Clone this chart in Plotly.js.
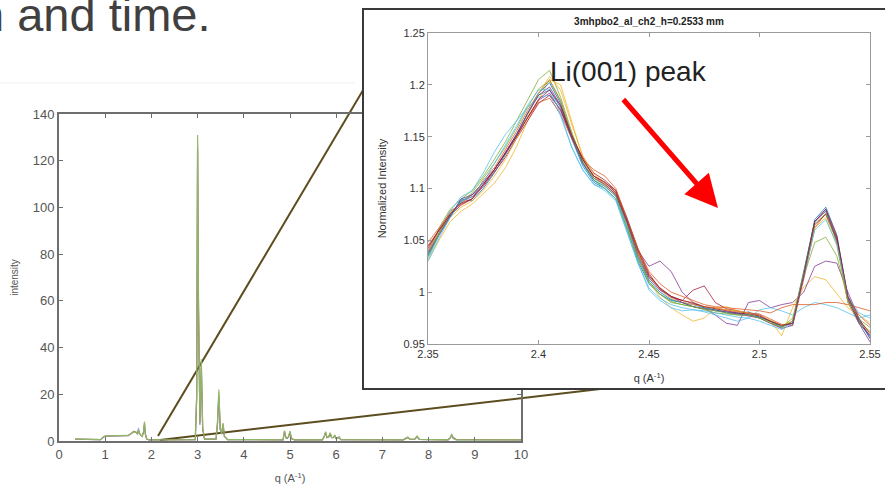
<!DOCTYPE html>
<html>
<head>
<meta charset="utf-8">
<script src="https://cdn.plot.ly/plotly-3.0.1.min.js"></script>
<style>html,body{margin:0;padding:0;background:#fff;}#chart{width:885px;height:488px;}</style>
</head>
<body>
<div id="chart"></div>
<script>
// ---------- main pattern (intensity vs q) ----------
const qMain = [0.35,0.9,0.98,1.02,1.5,1.58,1.62,1.66,1.7,1.72,1.74,1.77,1.8,1.83,1.85,1.87,1.9,1.95,2.2,2.95,2.98,3.0,3.02,3.05,3.08,3.11,3.15,3.4,3.43,3.46,3.49,3.52,3.55,3.58,3.65,4.85,4.88,4.91,4.94,4.97,5.0,5.03,5.1,5.7,5.74,5.77,5.8,5.84,5.87,5.9,5.94,5.97,6.0,6.03,6.06,6.1,7.45,7.52,7.55,7.6,7.7,7.75,7.8,8.42,8.47,8.5,8.53,8.6,10];
const mainBlue   = [0.8,0.6,1.9,2.1,2.3,3.6,4.2,3.9,3.2,5.6,3.4,2.6,2.0,3.8,7.0,2.8,0.8,0.5,0.5,0.6,18,126,55,7,32,5,0.8,0.8,7,20,5,3,7,2,0.6,0.5,4.0,1.4,1.1,1.8,3.9,1.0,0.5,0.5,1.8,3.6,1.4,1.8,3.2,1.4,1.4,2.3,1.0,1.1,1.6,0.6,0.5,1.1,1.5,0.7,0.8,1.9,0.7,0.5,1.3,2.6,1.1,0.5,0.5];
const mainOrange = [0.8,0.6,2.0,2.2,2.4,3.5,4.1,3.8,3.0,4.8,3.3,2.5,2.0,3.9,7.8,2.9,0.8,0.5,0.5,0.6,19,129,58,8,34,6,0.8,0.8,8,21,5,3,7.5,2,0.6,0.5,4.2,1.5,1.2,1.9,4.1,1.0,0.5,0.5,1.9,3.8,1.5,1.9,3.4,1.5,1.5,2.5,1.0,1.2,1.7,0.6,0.5,1.2,1.6,0.7,0.8,2.0,0.7,0.5,1.4,2.8,1.5,0.6,0.5];
const mainRed    = [0.8,0.6,1.9,2.1,2.3,3.4,4.0,3.7,3.0,4.6,3.2,2.5,2.0,3.7,7.5,2.8,0.8,0.5,0.5,0.6,18,124,54,7,31,5,0.8,0.8,7,19,5,3,7,2,0.6,0.5,3.9,1.4,1.1,1.8,3.8,1.0,0.5,0.5,1.8,3.5,1.4,1.8,3.1,1.4,1.4,2.2,1.0,1.1,1.6,0.6,0.5,1.1,1.5,0.7,0.8,1.8,0.7,0.5,1.3,2.4,1.6,0.7,0.5];
const mainGreen  = [0.8,0.6,2.0,2.2,2.4,3.5,4.0,3.8,3.0,4.5,3.2,2.5,2.0,4.0,8.3,3.0,0.8,0.5,0.5,0.6,20,131,60,8,35,6,0.8,0.8,8,22,5,3,7.7,2,0.6,0.5,4.4,1.5,1.2,2.0,4.2,1.0,0.5,0.5,2.0,4.0,1.5,2.0,3.6,1.5,1.5,2.6,1.0,1.2,1.8,0.6,0.5,1.2,1.7,0.7,0.8,2.1,0.7,0.5,1.5,3.0,1.2,0.5,0.5];
const mainTickVals = [0,1,2,3,4,5,6,7,8,9,10];
const mainYTicks = [0,20,40,60,80,100,120,140];

// ---------- inset (normalized intensity, Li(001) region) ----------
const qZoom = [2.350,2.355,2.360,2.365,2.370,2.375,2.380,2.385,2.390,2.395,2.400,2.405,2.410,2.415,2.420,2.425,2.430,2.435,2.440,2.445,2.450,2.455,2.460,2.465,2.470,2.475,2.480,2.485,2.490,2.495,2.500,2.505,2.510,2.515,2.520,2.525,2.530,2.535,2.540,2.545,2.550];
const scan01 = [1.035,1.055,1.072,1.090,1.088,1.100,1.115,1.132,1.150,1.172,1.190,1.195,1.178,1.148,1.122,1.106,1.100,1.090,1.062,1.030,1.008,0.998,0.992,0.990,0.986,0.984,0.983,0.980,0.979,0.981,0.976,0.972,0.966,0.972,1.020,1.068,1.080,1.048,0.990,0.970,0.958];
const scan02 = [1.045,1.060,1.078,1.085,1.090,1.108,1.120,1.138,1.155,1.175,1.192,1.205,1.185,1.152,1.128,1.112,1.104,1.095,1.068,1.038,1.015,1.004,0.996,0.992,0.990,0.986,0.985,0.983,0.981,0.980,0.979,0.974,0.969,0.968,1.012,1.062,1.076,1.052,0.995,0.978,0.968];
const scan03 = [1.030,1.050,1.068,1.078,1.085,1.095,1.105,1.120,1.140,1.165,1.185,1.205,1.200,1.165,1.130,1.110,1.105,1.098,1.070,1.040,1.010,0.995,0.985,0.978,0.972,0.975,0.985,0.986,0.982,0.978,0.975,0.972,0.958,0.985,1.005,1.015,1.012,0.998,0.985,0.978,0.970];
const scan04 = [1.040,1.058,1.075,1.088,1.092,1.103,1.118,1.135,1.152,1.168,1.185,1.192,1.175,1.150,1.128,1.112,1.106,1.098,1.070,1.040,1.025,1.030,1.020,1.000,0.990,0.985,0.978,0.970,0.968,0.990,0.992,0.985,0.988,0.990,1.000,1.025,1.030,1.028,1.000,0.975,0.955];
const scan05 = [1.038,1.062,1.080,1.090,1.098,1.112,1.128,1.145,1.165,1.185,1.205,1.214,1.188,1.155,1.125,1.108,1.100,1.090,1.062,1.032,1.010,0.998,0.990,0.988,0.986,0.983,0.980,0.979,0.978,0.978,0.975,0.970,0.966,0.975,1.015,1.048,1.053,1.035,0.992,0.972,0.962];
const scan06 = [1.032,1.055,1.078,1.092,1.098,1.115,1.135,1.152,1.165,1.178,1.188,1.190,1.170,1.140,1.118,1.104,1.098,1.088,1.058,1.028,1.002,0.992,0.985,0.982,0.983,0.981,0.978,0.975,0.972,0.975,0.983,0.985,0.982,0.978,0.985,0.990,0.988,0.985,0.980,0.975,0.978];
const scan07 = [1.042,1.060,1.074,1.084,1.090,1.102,1.116,1.130,1.148,1.165,1.182,1.190,1.176,1.150,1.130,1.115,1.108,1.098,1.072,1.042,1.018,1.003,0.995,0.992,1.002,1.006,0.990,0.984,0.982,0.980,0.978,0.972,0.968,0.970,1.015,1.065,1.075,1.050,0.992,0.972,0.958];
const scan08 = [1.036,1.057,1.073,1.088,1.094,1.106,1.118,1.134,1.152,1.172,1.192,1.202,1.182,1.150,1.124,1.108,1.102,1.093,1.066,1.034,1.012,1.000,0.993,0.990,0.988,0.985,0.983,0.981,0.980,0.978,0.976,0.972,0.967,0.970,1.018,1.070,1.082,1.055,0.995,0.972,0.956];
const scan09 = [1.048,1.062,1.076,1.086,1.094,1.106,1.118,1.134,1.150,1.168,1.183,1.187,1.172,1.148,1.128,1.118,1.112,1.100,1.072,1.042,1.020,1.008,1.000,0.996,0.992,0.988,0.986,0.985,0.984,0.983,0.982,0.980,0.985,0.988,0.988,0.988,0.990,0.990,0.988,0.985,0.982];
const scan10 = [1.040,1.057,1.072,1.082,1.088,1.098,1.112,1.128,1.148,1.170,1.192,1.208,1.195,1.162,1.132,1.114,1.106,1.096,1.070,1.040,1.016,1.002,0.994,0.990,0.988,0.986,0.984,0.983,0.982,0.980,0.977,0.973,0.968,0.972,1.018,1.062,1.072,1.045,0.990,0.970,0.962];
const scan11 = [1.038,1.056,1.073,1.090,1.094,1.104,1.118,1.134,1.152,1.172,1.190,1.198,1.180,1.150,1.125,1.110,1.104,1.094,1.068,1.036,1.014,1.002,0.996,0.990,0.986,0.984,0.982,0.981,0.979,0.977,0.975,0.970,0.965,0.968,1.016,1.068,1.078,1.052,0.994,0.970,0.952];
const scan12 = [1.034,1.056,1.076,1.086,1.096,1.110,1.124,1.140,1.158,1.178,1.196,1.204,1.184,1.152,1.126,1.110,1.103,1.092,1.064,1.033,1.010,0.998,0.991,0.988,0.986,0.984,0.982,0.980,0.978,0.978,0.975,0.971,0.966,0.972,1.020,1.066,1.076,1.048,0.992,0.974,0.966];
const scan13 = [1.030,1.052,1.072,1.088,1.092,1.106,1.124,1.142,1.160,1.180,1.195,1.196,1.172,1.140,1.118,1.104,1.100,1.090,1.060,1.028,1.004,0.994,0.988,0.985,0.983,0.982,0.980,0.978,0.976,0.975,0.972,0.968,0.964,0.970,1.015,1.060,1.070,1.046,0.996,0.980,0.975];
const scan14 = [1.044,1.060,1.075,1.086,1.090,1.104,1.118,1.134,1.150,1.168,1.186,1.195,1.180,1.152,1.128,1.112,1.106,1.096,1.070,1.040,1.016,1.004,0.996,0.992,0.989,0.986,0.984,0.982,0.980,0.979,0.977,0.972,0.968,0.970,1.016,1.068,1.080,1.054,0.996,0.974,0.960];
const zoomScans = [scan01,scan02,scan03,scan04,scan05,scan06,scan07,scan08,scan09,scan10,scan11,scan12,scan13,scan14];
const zoomXTicks = [2.35,2.4,2.45,2.5,2.55];
const zoomXLabels = ["2.35","2.4","2.45","2.5","2.55"];
const zoomYTicks = [0.95,1,1.05,1.1,1.15,1.2,1.25];
const zoomYLabels = ["0.95","1","1.05","1.1","1.15","1.2","1.25"];
const scanColors = ["#0072BD","#D95319","#EDB120","#7E2F8E","#77AC30","#4DBEEE","#A2142F"];

// ---------- geometry (pixels in the 885x488 page) ----------
const W = 885, H = 488;
const px = v => v / W;
const py = v => 1 - v / H;

const traces = [];
const mainSeries = [[mainBlue,"#0072BD",0.45],[mainOrange,"#D95319",0.45],[mainRed,"#A2142F",0.4],[mainGreen,"#8cbc68",0.95]];
mainSeries.forEach(([ys,c,op]) => traces.push({
  type:"scatter", mode:"lines", x:qMain, y:ys, xaxis:"x", yaxis:"y",
  line:{color:c, width:1.2}, opacity:op, hoverinfo:"skip", showlegend:false
}));
// empty trace that creates the framed inset panel
traces.push({type:"scatter", mode:"lines", x:[], y:[], xaxis:"x2", yaxis:"y2", hoverinfo:"skip", showlegend:false});
zoomScans.forEach((ys,i) => traces.push({
  type:"scatter", mode:"lines", x:qZoom, y:ys, xaxis:"x3", yaxis:"y3",
  line:{color:scanColors[i % scanColors.length], width:1}, opacity:0.75, hoverinfo:"skip", showlegend:false
}));

const FONT = "Liberation Sans, Arial, Helvetica, sans-serif";
const layout = {
  width:W, height:H,
  margin:{l:0,r:0,t:0,b:0},
  paper_bgcolor:"#ffffff", plot_bgcolor:"#ffffff",
  showlegend:false,
  font:{family:FONT, color:"#333"},
  title:{text:"<b>3mhpbo2_al_ch2_h=0.2533 mm</b>", font:{size:10, color:"#222", family:FONT},
         x:px(649), xref:"paper", xanchor:"center", y:py(21), yref:"paper", yanchor:"middle"},
  xaxis:{domain:[px(59),px(521)], anchor:"y", range:[0,10], tickvals:mainTickVals,
         showline:true, linecolor:"#6e6e6e", linewidth:2, mirror:"ticks",
         ticks:"inside", ticklen:4, tickcolor:"#6e6e6e", showgrid:false, zeroline:false,
         tickfont:{size:13, color:"#555"},
         title:{text:"q (A<sup>-1</sup>)", font:{size:11, color:"#555"}, standoff:14}},
  yaxis:{domain:[py(441),py(114)], anchor:"x", range:[0,140], tickvals:mainYTicks,
         showline:true, linecolor:"#6e6e6e", linewidth:2, mirror:"ticks",
         ticks:"inside", ticklen:4, tickcolor:"#6e6e6e", showgrid:false, zeroline:false,
         tickfont:{size:13, color:"#555"},
         title:{text:"intensity", font:{size:10, color:"#555"}, standoff:12}},
  xaxis2:{domain:[px(364),1], anchor:"y2", range:[0,1], showline:true, mirror:true,
          linecolor:"#3a3a3a", linewidth:2, showticklabels:false, ticks:"", showgrid:false, zeroline:false},
  yaxis2:{domain:[py(388),py(10)], anchor:"x2", range:[0,1], showline:true, mirror:false,
          linecolor:"#3a3a3a", linewidth:2, showticklabels:false, ticks:"", showgrid:false, zeroline:false},
  xaxis3:{domain:[px(428),px(870)], anchor:"y3", range:[2.35,2.55], tickvals:zoomXTicks, ticktext:zoomXLabels,
          showline:true, linecolor:"#9a9a9a", linewidth:1, mirror:"ticks",
          ticks:"inside", ticklen:4, tickcolor:"#9a9a9a", showgrid:false, zeroline:false,
          tickfont:{size:11, color:"#333"},
          title:{text:"q (A<sup>-1</sup>)", font:{size:11, color:"#333"}, standoff:15}},
  yaxis3:{domain:[py(344),py(33)], anchor:"x3", range:[0.95,1.25], tickvals:zoomYTicks, ticktext:zoomYLabels,
          showline:true, linecolor:"#9a9a9a", linewidth:1, mirror:"ticks",
          ticks:"inside", ticklen:4, tickcolor:"#9a9a9a", showgrid:false, zeroline:false,
          tickfont:{size:11, color:"#333"},
          title:{text:"Normalized Intensity", font:{size:11, color:"#333"}, standoff:14}},
  shapes:[
    {type:"line", xref:"paper", yref:"paper", x0:0, y0:py(83), x1:px(355), y1:py(83), line:{color:"#efefef", width:1}, layer:"below"},
    {type:"line", xref:"paper", yref:"paper", x0:px(158), y0:py(436), x1:px(375), y1:py(70), line:{color:"#5c4d1f", width:2}, layer:"below"},
    {type:"line", xref:"paper", yref:"paper", x0:px(160), y0:py(440), x1:px(660), y1:py(382), line:{color:"#5c4d1f", width:2}, layer:"below"}
  ],
  annotations:[
    {text:"n and time.", xref:"paper", yref:"paper", x:px(-24), y:py(15), xanchor:"left", yanchor:"middle",
     showarrow:false, font:{size:47, color:"#404040", family:FONT}},
    {text:"Li(001) peak", xref:"x3", yref:"y3", x:2.4405, y:1.2124, xanchor:"center", yanchor:"middle",
     showarrow:false, font:{size:28, color:"#222", family:FONT}},
    {text:"", xref:"x3", yref:"y3", axref:"x3", ayref:"y3", x:2.4812, y:1.0812, ax:2.4378, ay:1.1873,
     showarrow:true, arrowcolor:"#ff0000", arrowwidth:5, arrowhead:2, arrowsize:1.3}
  ]
};

Plotly.newPlot("chart", traces, layout, {staticPlot:true, displayModeBar:false});
</script>
</body>
</html>
